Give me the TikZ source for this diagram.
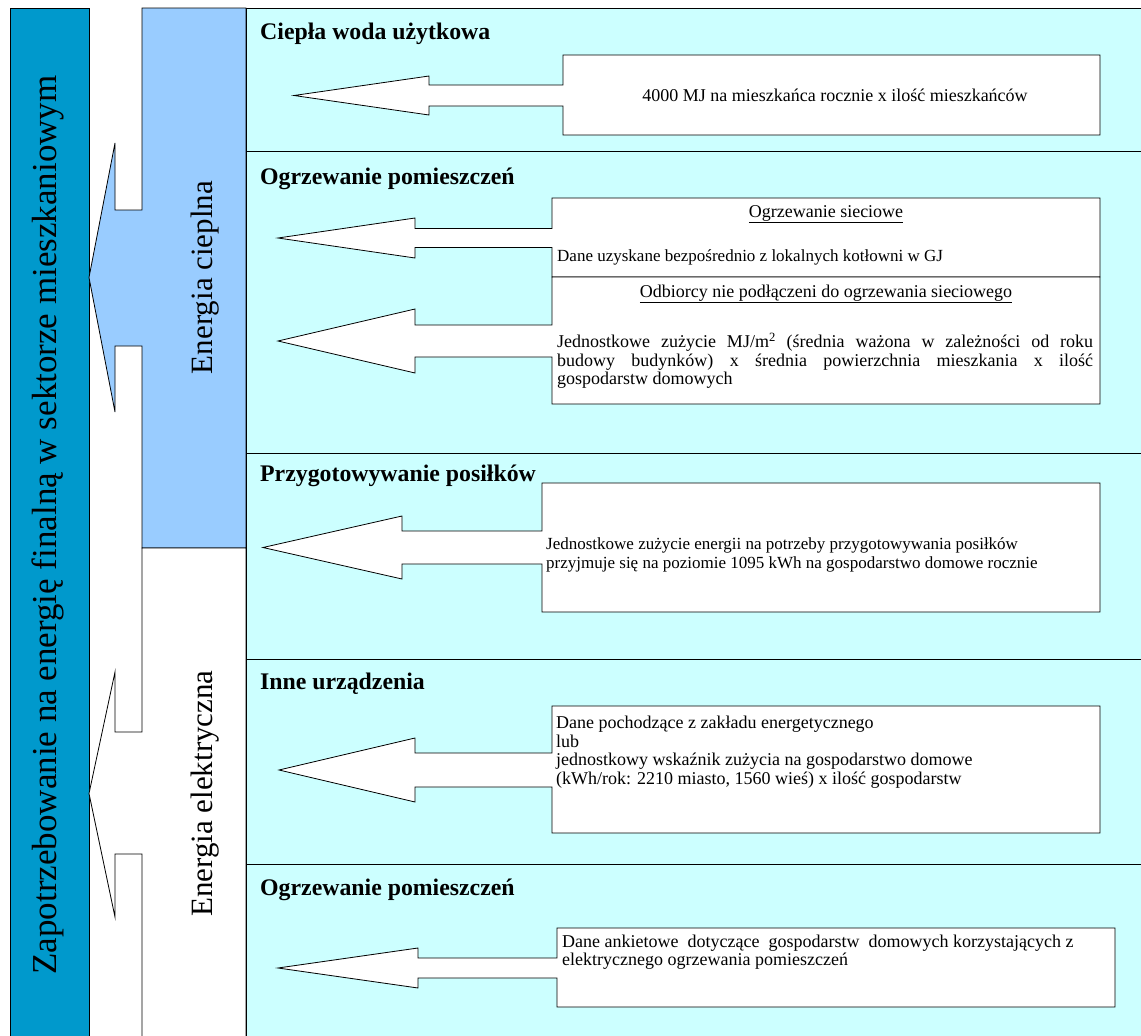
\documentclass[tikz,border=0pt]{standalone}
\usepackage{fontspec}
\setmainfont{Liberation Serif}
\definecolor{darkbar}{HTML}{0099CC}
\definecolor{lightbar}{HTML}{99CCFF}
\definecolor{panel}{HTML}{CCFFFF}
\newcommand\mycallout[9]{\draw[outl,fill=white] (#1,#2) -- (#3,#2) -- (#3,#4) -- (#1,#4) -- (#1,#5+#6) -- (#8,#5+#6) -- (#8,#5+#7) -- (#9,#5) -- (#8,#5-#7) -- (#8,#5-#6) -- (#1,#5-#6) -- cycle;}
\begin{document}
\begin{tikzpicture}[x=1pt,y=-1pt,
  outl/.style={draw=black, line width=0.8pt, line join=miter},
  ttl/.style={font=\fontsize{23.8}{26}\selectfont\bfseries, anchor=base west, inner sep=0},
  body/.style={font=\fontsize{18}{18.5}\selectfont, inner sep=0, align=left},
  smallbody/.style={font=\fontsize{17}{18.5}\selectfont, inner sep=0, align=left},
  vert/.style={rotate=90, anchor=base, inner sep=0}]
\useasboundingbox (0,0) rectangle (1141,1036);
\clip (0,0) rectangle (1141,1036);
\fill[white] (0,0) rectangle (1141,1036);
% left dark bar
\draw[outl, fill=darkbar] (10,8) rectangle (89,1060);
\node[vert, font=\fontsize{35}{40}\selectfont] (main) at (56,525) {Zapotrzebowanie na energię finalną w sektorze mieszkaniowym};
% heat column
\draw[outl, fill=lightbar] (142,8) -- (246,8) -- (246,548) -- (142,548) -- (142,346) -- (115,346) -- (115,412) -- (89,277.5) -- (115,143) -- (115,210) -- (142,210) -- cycle;
\node[vert, font=\fontsize{31}{36}\selectfont] (heat) at (212,277.5) {Energia cieplna};
% electric column
\draw[outl, fill=white] (142,548) -- (246,548) -- (246,1060) -- (142,1060) -- (142,854) -- (115,854) -- (115,917) -- (89,793.5) -- (115,672) -- (115,732) -- (142,732) -- cycle;
\node[vert, font=\fontsize{31}{36}\selectfont] (elec) at (212,793.5) {Energia elektryczna};
% panels
\draw[outl, fill=panel] (246,8) rectangle (1160,151);
\draw[outl, fill=panel] (246,151) rectangle (1160,453);
\draw[outl, fill=panel] (246,453) rectangle (1160,659);
\draw[outl, fill=panel] (246,659) rectangle (1160,864);
\draw[outl, fill=panel] (246,864) rectangle (1160,1060);
% titles
\node[ttl] (t1) at (260,39) {Ciepła woda użytkowa};
\node[ttl] (t2) at (260,184) {Ogrzewanie pomieszczeń};
\node[ttl] (t3) at (260,481) {Przygotowywanie posiłków};
\node[ttl] (t4) at (260,689) {Inne urządzenia};
\node[ttl] (t5) at (260,895) {Ogrzewanie pomieszczeń};
% callouts
\mycallout{563}{55}{1100}{135}{95.5}{10.5}{19.5}{429}{294}
\mycallout{552}{198}{1100}{277}{238}{9.5}{20}{415}{278}
\mycallout{552}{277}{1100}{404}{341}{16}{32}{415}{278}
\mycallout{542}{483}{1100}{612}{547.5}{16.5}{31.5}{402}{263}
\mycallout{552}{706}{1100}{833}{770}{17}{32}{415}{279}
\mycallout{557}{928}{1115}{1007}{968}{10}{20}{418}{278}
% texts
\node[body] (b1) at (835,95.5) {4000 MJ na mieszkańca rocznie x ilość mieszkańców};
\node[body] (b2a) at (826,214) {\underline{Ogrzewanie sieciowe}};
\node[smallbody, anchor=west] (b2b) at (557,257) {Dane uzyskane bezpośrednio z lokalnych kotłowni w GJ};
\node[body] (b2c) at (826,294) {\underline{Odbiorcy nie podłączeni do ogrzewania sieciowego}};
\node[body, anchor=west] (b2d) at (557,361) {\parbox{536pt}{\fontsize{18}{18.5}\selectfont Jednostkowe zużycie MJ/m\textsuperscript{2} (średnia ważona w zależności od roku\linebreak budowy budynków) x średnia powierzchnia mieszkania x ilość\linebreak gospodarstw domowych}};
\node[smallbody, anchor=west] (b3) at (546,555) {Jednostkowe zużycie energii na potrzeby przygotowywania posiłków\\przyjmuje się na poziomie 1095 kWh na gospodarstwo domowe rocznie};
\node[body, anchor=west] (b4) at (556,752) {Dane pochodzące z zakładu energetycznego\\lub\\jednostkowy wskaźnik zużycia na gospodarstwo domowe\\(kWh/rok: 2210 miasto, 1560 wieś) x ilość gospodarstw};
\node[body, anchor=west] (b5) at (562,952) {Dane ankietowe\ \ dotyczące\ \ gospodarstw\ \ domowych korzystających z\\elektrycznego ogrzewania pomieszczeń};
\end{tikzpicture}
\end{document}
